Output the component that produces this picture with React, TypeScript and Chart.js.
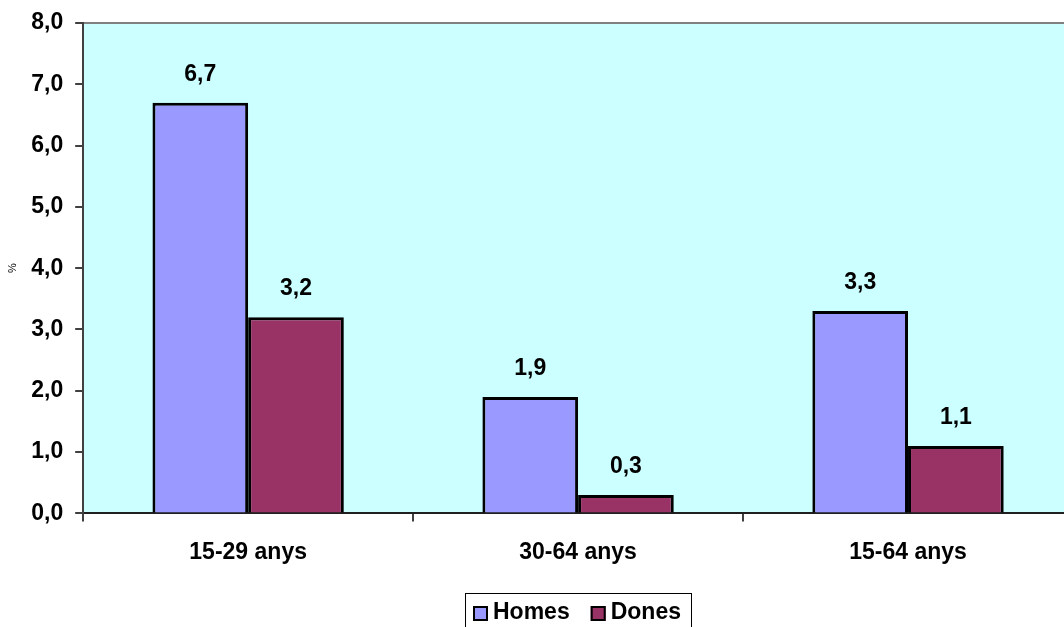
import React, { useEffect, useRef } from "react";
import { Chart, registerables } from "chart.js";

Chart.register(...registerables);

const categories = ["15-29 anys", "30-64 anys", "15-64 anys"];
const homesValues = [6.7, 1.9, 3.3];
const donesValues = [3.2, 0.3, 1.1];
const seriesNames = ["Homes", "Dones"];
const yMin = 0;
const yMax = 8;
const yStep = 1;

const FONT = "'Liberation Sans', Arial, sans-serif";
const fmt = (v: number) => v.toFixed(1).replace(".", ",");

const bgPlugin = {
  id: "plotBg",
  beforeDraw(chart: any) {
    const { ctx, chartArea } = chart;
    ctx.save();
    ctx.fillStyle = "#ffffff";
    ctx.fillRect(0, 0, chart.width, chart.height);
    ctx.fillStyle = "#CCFFFF";
    ctx.fillRect(chartArea.left, chartArea.top, chartArea.right - chartArea.left, chartArea.bottom - chartArea.top);
    ctx.strokeStyle = "#808080";
    ctx.lineWidth = 2;
    ctx.beginPath();
    ctx.moveTo(chartArea.left, chartArea.top);
    ctx.lineTo(chartArea.right, chartArea.top);
    ctx.lineTo(chartArea.right, chartArea.bottom);
    ctx.stroke();
    ctx.restore();
  },
};

const labelsPlugin = {
  id: "valueLabels",
  afterDatasetsDraw(chart: any) {
    const { ctx } = chart;
    ctx.save();
    ctx.font = `bold 23px ${FONT}`;
    ctx.fillStyle = "#000";
    ctx.textAlign = "center";
    ctx.textBaseline = "alphabetic";
    chart.data.datasets.forEach((ds: any, di: number) => {
      const meta = chart.getDatasetMeta(di);
      meta.data.forEach((bar: any, i: number) => {
        ctx.fillText(fmt(ds.data[i]), bar.x, bar.y - 22);
      });
    });
    ctx.restore();
  },
};

const legendPlugin = {
  id: "boxedLegend",
  afterDraw(chart: any) {
    const { ctx, chartArea } = chart;
    ctx.save();
    ctx.font = `bold 23px ${FONT}`;
    const items = chart.data.datasets.map((ds: any) => ({
      text: ds.label,
      color: ds.backgroundColor,
      w: ctx.measureText(ds.label).width,
    }));
    const box = 15;
    const gapBT = 5;
    const gapItems = 21;
    const padL = 8;
    const padR = 10;
    let total = padL + padR;
    items.forEach((it: any, i: number) => {
      total += box + gapBT + it.w + (i < items.length - 1 ? gapItems : 0);
    });
    const cx = (chartArea.left + chartArea.right) / 2;
    let x = Math.round(cx - total / 2);
    const frameTop = chart.height - 42;
    const cy = chart.height - 23;
    ctx.strokeStyle = "#000";
    ctx.lineWidth = 1;
    ctx.strokeRect(x + 0.5, frameTop + 0.5, Math.round(total), 60);
    x += padL;
    ctx.textAlign = "left";
    ctx.textBaseline = "middle";
    items.forEach((it: any) => {
      const top = cy - 6;
      ctx.fillStyle = it.color;
      ctx.fillRect(x, top, box, box);
      ctx.strokeStyle = "#000";
      ctx.lineWidth = 2;
      ctx.strokeRect(x + 1, top + 1, box - 2, box - 2);
      x += box + gapBT;
      ctx.fillStyle = "#000";
      ctx.fillText(it.text, x, cy + 1);
      x += it.w + gapItems;
    });
    ctx.restore();
  },
};

export default function App() {
  const ref = useRef<HTMLCanvasElement>(null);
  useEffect(() => {
    if (!ref.current) return;
    const chart = new Chart(ref.current, {
      type: "bar",
      data: {
        labels: categories,
        datasets: [
          {
            label: seriesNames[0],
            data: homesValues,
            backgroundColor: "#9999FF",
            borderColor: "#000000",
            borderWidth: 3,
          },
          {
            label: seriesNames[1],
            data: donesValues,
            backgroundColor: "#993366",
            borderColor: "#000000",
            borderWidth: 3,
          },
        ],
      },
      options: {
        responsive: false,
        animation: false,
        devicePixelRatio: 1,
        font: { family: FONT },
        layout: { padding: { left: 0, right: 0, top: 0, bottom: 52 } },
        datasets: { bar: { categoryPercentage: 0.58, barPercentage: 1 } },
        plugins: {
          tooltip: { enabled: false },
          legend: { display: false },
        },
        scales: {
          x: {
            grid: {
              display: true,
              drawOnChartArea: false,
              drawTicks: true,
              tickLength: 8,
              color: "#404040",
              lineWidth: 2,
              offset: true,
            },
            border: { display: true, color: "#202020", width: 2 },
            ticks: {
              color: "#000",
              font: { family: FONT, size: 23, weight: "bold" },
              padding: 17,
              maxRotation: 0,
            },
          },
          y: {
            min: yMin,
            max: yMax,
            grid: {
              display: true,
              drawOnChartArea: false,
              drawTicks: true,
              tickLength: 8,
              color: "#404040",
              lineWidth: 2,
            },
            border: { display: true, color: "#404040", width: 2 },
            ticks: {
              stepSize: yStep,
              color: "#000",
              font: { family: FONT, size: 23, weight: "bold", lineHeight: 0.95 },
              padding: 12,
              callback: (v: any) => fmt(Number(v)),
            },
            title: {
              display: true,
              text: "%",
              color: "#000",
              font: { family: FONT, size: 11 },
              padding: { top: 6, bottom: 0 },
            },
          },
        },
      },
      plugins: [bgPlugin, labelsPlugin, legendPlugin],
    });
    return () => chart.destroy();
  }, []);

  return (
    <div
      style={{
        position: "fixed",
        left: 0,
        top: 0,
        width: 1064,
        height: 627,
        overflow: "hidden",
        background: "#fff",
      }}
    >
      <canvas ref={ref} width={1073} height={635} style={{ display: "block" }} />
    </div>
  );
}
